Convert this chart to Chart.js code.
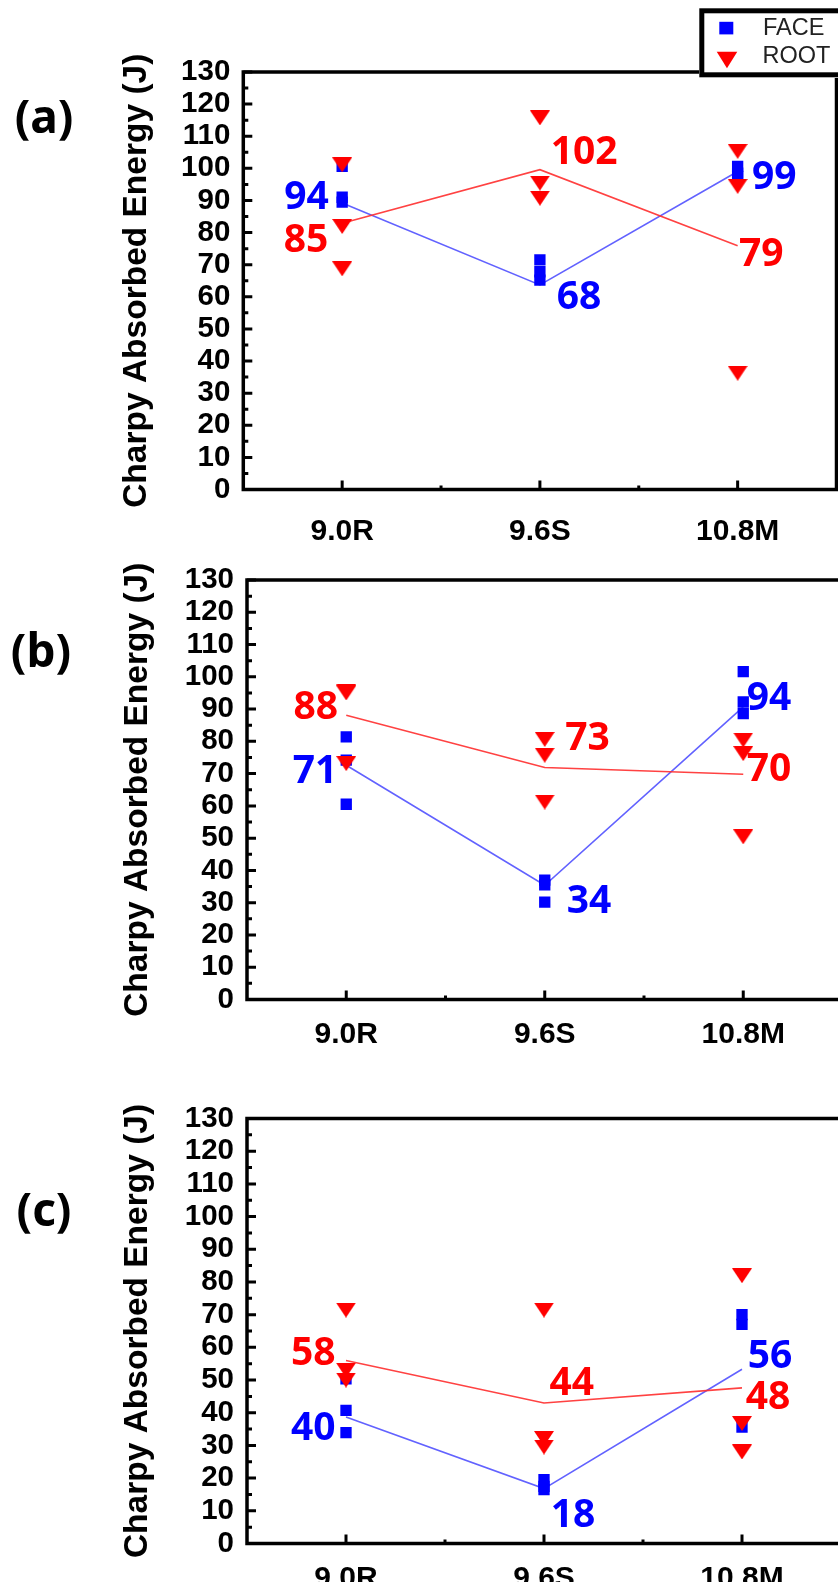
<!DOCTYPE html>
<html><head><meta charset="utf-8">
<script src="https://cdn.jsdelivr.net/npm/chart.js@4.4.1/dist/chart.umd.min.js"></script>
<style>
html,body{margin:0;padding:0;background:#fff;width:838px;height:1582px;overflow:hidden;}
#wrap{position:relative;width:838px;height:1582px;overflow:hidden;background:#fff;}
canvas{position:absolute;left:0;}
.plab{position:absolute;font-family:'Noto Sans';font-weight:bold;font-size:46px;line-height:1;color:#000;transform:translate(-50%,-50%);white-space:nowrap;}
</style></head><body>
<div id="wrap">
<canvas id="ca" width="860" height="548" style="top:0px"></canvas>
<canvas id="cb" width="860" height="512" style="top:548px"></canvas>
<canvas id="cc" width="860" height="522" style="top:1060px"></canvas>
<div class="plab" style="left:44px;top:115px">(a)</div>
<div class="plab" style="left:41px;top:649px">(b)</div>
<div class="plab" style="left:44px;top:1208px">(c)</div>
</div>
<script>
// ---------- data ----------
const categories = ['9.0R', '9.6S', '10.8M'];
const yMin = 0, yMax = 130, yStep = 10;
const seriesNames = ['FACE', 'ROOT'];
const yTitle = 'Charpy Absorbed Energy (J)';

// panel (a): individual specimens per category
const faceA = [[100.6, 91, 89.5], [71.5, 67.8, 65.2], [100.6, 98.5, 97.5]];
const rootA = [[101.1, 81.9, 68.7], [115.7, 95.4, 90.7], [105.3, 94.4, 36.2]];
const faceLineA = [89.2, 63.7, 99.0];
const rootLineA = [82.9, 99.6, 75.9];
const faceLabelA = [94, 68, 99];
const rootLabelA = [85, 102, 79];

// panel (b)
const faceB = [[81.4, 74.2, 60.5], [37, 35.5, 30.2], [101.6, 92.2, 88.6]];
const rootB = [[95.5, 95, 73.1], [80.6, 75.7, 61.2], [80.4, 76.2, 50.4]];
const faceLineB = [72.6, 35.4, 90.7];
const rootLineB = [88.1, 71.9, 69.8];
const faceLabelB = [71, 34, 94];
const rootLabelB = [88, 73, 70];

// panel (c)
const faceC = [[50.4, 40.7, 33.9], [19.5, 17.5, 16.5], [70, 67, 35.6]];
const rootC = [[71.4, 53, 50], [71.4, 32.1, 29.5], [81.9, 36.7, 28]];
const faceLineC = [38.7, 16.8, 53.3];
const rootLineC = [56, 43, 47.6];
const faceLabelC = [40, 18, 56];
const rootLabelC = [58, 44, 48];

// ---------- styles / layout ----------
const BLUE = '#0000ff', RED = '#ff0000';
const BLUE_LINE = 'rgba(70,70,255,0.85)', RED_LINE = 'rgba(255,45,45,0.9)';

function makeTriangle(w, h, color) {
  const c = document.createElement('canvas');
  c.width = w; c.height = h;
  const g = c.getContext('2d');
  g.fillStyle = color;
  g.beginPath(); g.moveTo(0, 0); g.lineTo(w, 0); g.lineTo(w / 2, h); g.closePath(); g.fill();
  return c;
}
const triImg = makeTriangle(20, 15, RED);

function toPoints(groups) {
  const pts = [];
  groups.forEach((vals, i) => vals.forEach(v => pts.push({x: categories[i], y: v})));
  return pts;
}

const framePlugin = {
  id: 'frame',
  beforeDatasetsDraw(chart) {
    const {ctx, chartArea: a, scales: {x, y}} = chart;
    ctx.save();
    ctx.strokeStyle = '#000';
    ctx.lineWidth = 3.5;
    ctx.strokeRect(a.left, a.top, a.right - a.left, a.bottom - a.top);
    ctx.lineWidth = 3;
    ctx.beginPath();
    for (let v = yMin; v <= yMax; v += yStep / 2) {
      const py = y.getPixelForValue(v);
      const len = (v % yStep === 0) ? 9 : 5;
      ctx.moveTo(a.left, py); ctx.lineTo(a.left + len, py);
    }
    for (let i = 0; i < categories.length; i++) {
      const px = x.getPixelForValue(i);
      ctx.moveTo(px, a.bottom); ctx.lineTo(px, a.bottom - 9);
      if (i < categories.length - 1) {
        const mx = (px + x.getPixelForValue(i + 1)) / 2;
        ctx.moveTo(mx, a.bottom); ctx.lineTo(mx, a.bottom - 4);
      }
    }
    ctx.stroke();
    ctx.restore();
  }
};

const textPlugin = {
  id: 'texts',
  afterDatasetsDraw(chart, args, opts) {
    const {ctx, scales: {x, y}} = chart;
    ctx.save();
    ctx.font = 'bold 39px "Noto Sans"';
    ctx.textAlign = 'center';
    ctx.textBaseline = 'middle';
    opts.labels.forEach(set => {
      ctx.fillStyle = set.color;
      set.values.forEach((val, i) => {
        const [dx, v] = set.pos[i];
        ctx.fillText(String(val), x.getPixelForValue(i) + dx, y.getPixelForValue(v) + 3);
      });
    });
    ctx.restore();
  },
  afterDraw(chart, args, opts) {
    const {ctx, chartArea: a} = chart;
    ctx.save();
    ctx.translate(opts.titleX, (a.top + a.bottom) / 2 + opts.titleDy);
    ctx.rotate(-Math.PI / 2);
    ctx.font = 'bold 33.5px "Liberation Sans"';
    ctx.fillStyle = '#000';
    ctx.textAlign = 'center';
    ctx.textBaseline = 'middle';
    ctx.fillText(yTitle, 0, 0);
    ctx.restore();
    if (opts.legend) {
      ctx.save();
      ctx.fillStyle = '#fff';
      ctx.fillRect(699, 8, 200, 70);
      ctx.strokeStyle = '#000';
      ctx.lineWidth = 5;
      ctx.strokeRect(701.8, 10.8, 200, 64);
      ctx.fillStyle = BLUE;
      ctx.fillRect(719.3, 21.8, 14, 12.6);
      ctx.fillStyle = RED;
      ctx.beginPath(); ctx.moveTo(716.7, 51.7); ctx.lineTo(737.3, 51.7); ctx.lineTo(727, 68.3); ctx.closePath(); ctx.fill();
      ctx.fillStyle = '#222';
      ctx.font = '23.5px "Liberation Sans"';
      ctx.textAlign = 'left';
      ctx.textBaseline = 'middle';
      ctx.fillText(seriesNames[0], 763, 28.8);
      ctx.fillText(seriesNames[1], 762.5, 56.8);
      ctx.restore();
    }
  }
};

function makePanel(id, p) {
  const canvas = document.getElementById(id);
  const W = canvas.width, H = canvas.height;
  return new Chart(canvas, {
    type: 'line',
    data: {
      labels: categories,
      datasets: [
        {label: 'FACE mean', data: p.faceLine, borderColor: BLUE_LINE, borderWidth: 1.6, pointRadius: 0, tension: 0, fill: false, order: 4},
        {label: 'ROOT mean', data: p.rootLine, borderColor: RED_LINE, borderWidth: 1.6, pointRadius: 0, tension: 0, fill: false, order: 3},
        {label: 'FACE', data: toPoints(p.face), showLine: false, pointStyle: 'rect', pointRadius: 8, pointBackgroundColor: BLUE, pointBorderWidth: 0, order: 2},
        {label: 'ROOT', data: toPoints(p.root), showLine: false, pointStyle: triImg, pointRadius: 8, order: 1}
      ]
    },
    options: {
      responsive: false,
      animation: false,
      devicePixelRatio: 1,
      events: [],
      layout: {padding: {left: 100, top: p.top, right: W - p.right, bottom: 0}},
      plugins: {
        legend: {display: false},
        tooltip: {enabled: false},
        texts: {titleX: p.titleX, titleDy: p.titleDy, legend: p.legend, labels: [
          {color: BLUE, values: p.faceLabel, pos: p.facePos},
          {color: RED, values: p.rootLabel, pos: p.rootPos}
        ]}
      },
      scales: {
        x: {
          type: 'category', offset: true,
          grid: {display: false, drawTicks: false},
          border: {display: false},
          ticks: {color: '#000', font: {family: 'Liberation Sans', weight: 'bold', size: 30}, padding: p.xPad, maxRotation: 0, autoSkip: false},
          afterFit(s) { s.height = H - p.bottom; }
        },
        y: {
          min: yMin, max: yMax,
          grid: {display: false, drawTicks: false},
          border: {display: false},
          ticks: {stepSize: yStep, color: '#000', font: {family: 'Liberation Sans', weight: 'bold', size: 29.5}, padding: 13, autoSkip: false},
          afterFit(s) { s.width = p.left - 100; }
        }
      }
    },
    plugins: [framePlugin, textPlugin]
  });
}

function build() {
  makePanel('ca', {
    left: 243.3, right: 836.5, top: 72, bottom: 489.5, xPad: 24, titleX: 137, titleDy: 0, legend: true,
    face: faceA, root: rootA, faceLine: faceLineA, rootLine: rootLineA,
    faceLabel: faceLabelA, rootLabel: rootLabelA,
    facePos: [[-35.7, 91.8], [39.2, 60.5], [36.6, 98]],
    rootPos: [[-36.2, 78.5], [44.2, 105.6], [23.6, 74]]
  });
  makePanel('cb', {
    left: 247, right: 842.5, top: 32, bottom: 451.5, xPad: 17, titleX: 138, titleDy: 0, legend: false,
    face: faceB, root: rootB, faceLine: faceLineB, rootLine: rootLineB,
    faceLabel: faceLabelB, rootLabel: rootLabelB,
    facePos: [[-31.2, 71.6], [44.2, 31.2], [25.8, 94]],
    rootPos: [[-30.5, 91.2], [42.8, 81.7], [25.8, 72.1]]
  });
  makePanel('cc', {
    left: 247, right: 841, top: 58.5, bottom: 483.5, xPad: 17, titleX: 138, titleDy: 0, legend: false,
    face: faceC, root: rootC, faceLine: faceLineC, rootLine: rootLineC,
    faceLabel: faceLabelC, rootLabel: rootLabelC,
    facePos: [[-32.7, 35.9], [29, 9.5], [28, 57.9]],
    rootPos: [[-32.7, 58.9], [27.7, 49.7], [26, 45.6]]
  });
}

Promise.all([
  document.fonts.load('bold 39px "Noto Sans"'),
  document.fonts.load('bold 28px "Liberation Sans"'),
  document.fonts.load('23px "Liberation Sans"'),
  document.fonts.load('bold 46px "Noto Sans"')
]).then(build, build);
</script>
</body></html>
